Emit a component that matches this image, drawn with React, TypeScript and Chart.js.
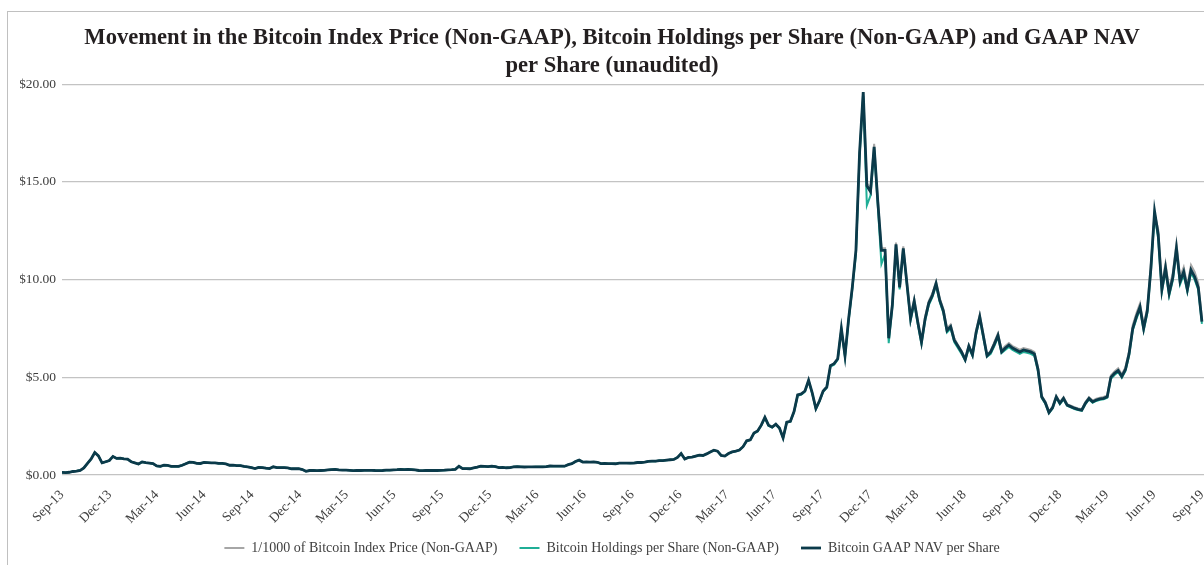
import React, { useEffect, useRef } from "react";
import { Chart, registerables } from "chart.js";

Chart.register(...registerables);

const SERIF = "'Liberation Serif', 'Times New Roman', serif";

const titleLines = [
  "Movement in the Bitcoin Index Price (Non-GAAP), Bitcoin Holdings per Share (Non-GAAP) and GAAP NAV",
  "per Share (unaudited)",
];

const seriesNames = [
  "1/1000 of Bitcoin Index Price (Non-GAAP)",
  "Bitcoin Holdings per Share (Non-GAAP)",
  "Bitcoin GAAP NAV per Share",
];

const tickLabels = [
  "Sep-13", "Dec-13", "Mar-14", "Jun-14", "Sep-14", "Dec-14", "Mar-15", "Jun-15", "Sep-15",
  "Dec-15", "Mar-16", "Jun-16", "Sep-16", "Dec-16", "Mar-17", "Jun-17", "Sep-17", "Dec-17",
  "Mar-18", "Jun-18", "Sep-18", "Dec-18", "Mar-19", "Jun-19", "Sep-19",
];

// weekly observations starting Monday 30 Sep 2013
const START_UTC = Date.UTC(2013, 8, 30);

const indexPrice = [
  0.13, 0.125, 0.14, 0.18, 0.2, 0.24, 0.36, 0.6, 0.82, 1.15, 0.98, 0.62, 0.68,
  0.74, 0.95, 0.85, 0.86, 0.83, 0.81, 0.68, 0.62, 0.56, 0.67, 0.63, 0.61, 0.58,
  0.46, 0.44, 0.5, 0.49, 0.44, 0.44, 0.44, 0.5, 0.58, 0.66, 0.65, 0.6, 0.59,
  0.64, 0.63, 0.62, 0.62, 0.59, 0.59, 0.57, 0.5, 0.51, 0.48, 0.48, 0.44, 0.41,
  0.38, 0.33, 0.39, 0.38, 0.35, 0.33, 0.42, 0.38, 0.38, 0.38, 0.36, 0.32, 0.32,
  0.32, 0.28, 0.19, 0.23, 0.24, 0.22, 0.23, 0.24, 0.26, 0.28, 0.29, 0.26, 0.25,
  0.25, 0.24, 0.22, 0.23, 0.23, 0.24, 0.24, 0.24, 0.23, 0.225, 0.23, 0.25, 0.245,
  0.26, 0.27, 0.29, 0.28, 0.29, 0.28, 0.26, 0.23, 0.22, 0.23, 0.24, 0.23, 0.23,
  0.24, 0.245, 0.26, 0.27, 0.29, 0.45, 0.33, 0.33, 0.32, 0.36, 0.4, 0.45, 0.44,
  0.43, 0.45, 0.43, 0.38, 0.39, 0.37, 0.38, 0.42, 0.43, 0.42, 0.41, 0.415, 0.415,
  0.42, 0.42, 0.42, 0.43, 0.46, 0.45, 0.455, 0.45, 0.45, 0.53, 0.58, 0.69, 0.76,
  0.66, 0.67, 0.66, 0.67, 0.65, 0.58, 0.59, 0.58, 0.58, 0.575, 0.61, 0.61, 0.61,
  0.605, 0.61, 0.64, 0.64, 0.66, 0.7, 0.71, 0.71, 0.74, 0.74, 0.76, 0.78, 0.8,
  0.9, 1.1, 0.82, 0.9, 0.92, 0.97, 1.02, 1.0, 1.08, 1.18, 1.27, 1.22, 1.0,
  0.97, 1.1, 1.18, 1.22, 1.28, 1.45, 1.75, 1.8, 2.15, 2.25, 2.55, 2.95, 2.55,
  2.45, 2.6, 2.4, 1.9, 2.7, 2.75, 3.25, 4.1, 4.15, 4.3, 4.85, 4.2, 3.4,
  3.8, 4.3, 4.5, 5.6, 5.7, 5.95, 7.5, 6.1, 8.0, 9.6, 11.5, 16.5, 19.6,
  14.95, 14.65, 16.95, 14.15, 11.6, 11.6, 7.1, 8.8, 11.9, 9.7, 11.7, 9.9, 8.1,
  9.0, 7.9, 6.85, 8.1, 8.9, 9.3, 9.9, 9.05, 8.5, 7.5, 7.7, 7.0, 6.65,
  6.35, 5.95, 6.65, 6.2, 7.4, 8.2, 7.2, 6.15, 6.35, 6.8, 7.25, 6.4, 6.6,
  6.75, 6.6, 6.5, 6.4, 6.5, 6.45, 6.4, 6.3, 5.5, 4.05, 3.75, 3.25, 3.5,
  4.05, 3.72, 3.98, 3.63, 3.55, 3.47, 3.41, 3.37, 3.73, 3.98, 3.81, 3.9, 3.96,
  3.99, 4.07, 5.1, 5.3, 5.46, 5.15, 5.51, 6.33, 7.66, 8.27, 8.78, 7.66, 8.58,
  10.83, 13.4, 12.57, 9.72, 10.84, 9.52, 10.33, 11.87, 10.13, 10.64, 9.72, 10.75, 10.39,
  9.83, 8.03,
];

const holdingsPerShare = [
  0.13, 0.125, 0.14, 0.18, 0.2, 0.24, 0.36, 0.6, 0.82, 1.15, 0.98, 0.62, 0.68,
  0.74, 0.95, 0.85, 0.86, 0.83, 0.81, 0.68, 0.62, 0.56, 0.67, 0.63, 0.61, 0.58,
  0.46, 0.44, 0.5, 0.49, 0.44, 0.44, 0.44, 0.5, 0.58, 0.66, 0.65, 0.6, 0.59,
  0.64, 0.63, 0.62, 0.62, 0.59, 0.59, 0.57, 0.5, 0.51, 0.48, 0.48, 0.44, 0.41,
  0.38, 0.33, 0.39, 0.38, 0.35, 0.33, 0.42, 0.38, 0.38, 0.38, 0.36, 0.32, 0.32,
  0.32, 0.28, 0.19, 0.23, 0.24, 0.22, 0.23, 0.24, 0.26, 0.28, 0.29, 0.26, 0.25,
  0.25, 0.24, 0.22, 0.23, 0.23, 0.24, 0.24, 0.24, 0.23, 0.225, 0.23, 0.25, 0.245,
  0.26, 0.27, 0.29, 0.28, 0.29, 0.28, 0.26, 0.23, 0.22, 0.23, 0.24, 0.23, 0.23,
  0.24, 0.245, 0.26, 0.27, 0.29, 0.45, 0.33, 0.33, 0.32, 0.36, 0.4, 0.45, 0.44,
  0.43, 0.45, 0.43, 0.38, 0.39, 0.37, 0.38, 0.42, 0.43, 0.42, 0.41, 0.415, 0.415,
  0.42, 0.42, 0.42, 0.43, 0.46, 0.45, 0.455, 0.45, 0.45, 0.53, 0.58, 0.69, 0.76,
  0.66, 0.67, 0.66, 0.67, 0.65, 0.58, 0.59, 0.58, 0.58, 0.575, 0.61, 0.61, 0.61,
  0.605, 0.61, 0.64, 0.64, 0.66, 0.7, 0.71, 0.71, 0.74, 0.74, 0.76, 0.78, 0.8,
  0.9, 1.09, 0.82, 0.9, 0.92, 0.96, 1.02, 0.99, 1.08, 1.17, 1.26, 1.21, 0.99,
  0.97, 1.09, 1.17, 1.21, 1.27, 1.44, 1.73, 1.79, 2.13, 2.23, 2.53, 2.92, 2.52,
  2.43, 2.58, 2.38, 1.88, 2.68, 2.73, 3.22, 4.06, 4.11, 4.26, 4.8, 4.16, 3.37,
  3.77, 4.26, 4.46, 5.55, 5.65, 5.9, 7.43, 6.04, 7.9, 9.5, 11.3, 16.3, 19.4,
  13.8, 14.3, 16.6, 13.8, 10.8, 11.3, 6.75, 8.6, 11.6, 9.5, 11.5, 9.7, 7.9,
  8.8, 7.7, 6.7, 7.9, 8.7, 9.1, 9.7, 8.85, 8.3, 7.3, 7.5, 6.8, 6.5,
  6.2, 5.85, 6.5, 6.1, 7.2, 8.0, 7.0, 6.05, 6.2, 6.6, 7.05, 6.25, 6.4,
  6.55, 6.4, 6.3, 6.2, 6.3, 6.25, 6.2, 6.1, 5.3, 3.95, 3.65, 3.16, 3.4,
  3.95, 3.62, 3.87, 3.54, 3.46, 3.38, 3.32, 3.28, 3.62, 3.87, 3.7, 3.79, 3.85,
  3.87, 3.95, 4.92, 5.12, 5.27, 4.98, 5.32, 6.1, 7.4, 7.98, 8.48, 7.4, 8.28,
  10.45, 13.3, 12.1, 9.35, 10.45, 9.17, 9.95, 11.45, 9.75, 10.25, 9.37, 10.35, 10.0,
  9.47, 7.74,
];

const gaapNavPerShare = [
  0.13, 0.125, 0.14, 0.18, 0.2, 0.24, 0.36, 0.6, 0.82, 1.15, 0.98, 0.62, 0.68,
  0.74, 0.95, 0.85, 0.86, 0.83, 0.81, 0.68, 0.62, 0.56, 0.67, 0.63, 0.61, 0.58,
  0.46, 0.44, 0.5, 0.49, 0.44, 0.44, 0.44, 0.5, 0.58, 0.66, 0.65, 0.6, 0.59,
  0.64, 0.63, 0.62, 0.62, 0.59, 0.59, 0.57, 0.5, 0.51, 0.48, 0.48, 0.44, 0.41,
  0.38, 0.33, 0.39, 0.38, 0.35, 0.33, 0.42, 0.38, 0.38, 0.38, 0.36, 0.32, 0.32,
  0.32, 0.28, 0.19, 0.23, 0.24, 0.22, 0.23, 0.24, 0.26, 0.28, 0.29, 0.26, 0.25,
  0.25, 0.24, 0.22, 0.23, 0.23, 0.24, 0.24, 0.24, 0.23, 0.225, 0.23, 0.25, 0.245,
  0.26, 0.27, 0.29, 0.28, 0.29, 0.28, 0.26, 0.23, 0.22, 0.23, 0.24, 0.23, 0.23,
  0.24, 0.245, 0.26, 0.27, 0.29, 0.45, 0.33, 0.33, 0.32, 0.36, 0.4, 0.45, 0.44,
  0.43, 0.45, 0.43, 0.38, 0.39, 0.37, 0.38, 0.42, 0.43, 0.42, 0.41, 0.415, 0.415,
  0.42, 0.42, 0.42, 0.43, 0.46, 0.45, 0.455, 0.45, 0.45, 0.53, 0.58, 0.69, 0.76,
  0.66, 0.67, 0.66, 0.67, 0.65, 0.58, 0.59, 0.58, 0.58, 0.575, 0.61, 0.61, 0.61,
  0.605, 0.61, 0.64, 0.64, 0.66, 0.7, 0.71, 0.71, 0.74, 0.74, 0.76, 0.78, 0.8,
  0.9, 1.1, 0.82, 0.9, 0.92, 0.97, 1.02, 1.0, 1.08, 1.18, 1.27, 1.22, 1.0,
  0.97, 1.1, 1.18, 1.22, 1.28, 1.45, 1.75, 1.8, 2.15, 2.25, 2.55, 2.95, 2.55,
  2.45, 2.6, 2.4, 1.9, 2.7, 2.75, 3.25, 4.1, 4.15, 4.3, 4.85, 4.2, 3.4,
  3.8, 4.3, 4.5, 5.6, 5.7, 5.95, 7.5, 6.1, 8.0, 9.6, 11.5, 16.5, 19.6,
  14.8, 14.5, 16.8, 14.0, 11.5, 11.5, 7.0, 8.7, 11.8, 9.6, 11.6, 9.8, 8.0,
  8.9, 7.8, 6.8, 8.0, 8.8, 9.2, 9.8, 8.95, 8.4, 7.4, 7.6, 6.9, 6.6,
  6.3, 5.9, 6.6, 6.15, 7.3, 8.1, 7.1, 6.1, 6.3, 6.7, 7.15, 6.3, 6.5,
  6.65, 6.5, 6.4, 6.3, 6.4, 6.35, 6.3, 6.2, 5.4, 4.0, 3.7, 3.2, 3.45,
  4.0, 3.67, 3.92, 3.58, 3.5, 3.42, 3.36, 3.32, 3.67, 3.92, 3.75, 3.84, 3.9,
  3.92, 4.0, 5.0, 5.2, 5.35, 5.05, 5.4, 6.2, 7.5, 8.1, 8.6, 7.5, 8.4,
  10.6, 13.5, 12.3, 9.5, 10.6, 9.3, 10.1, 11.6, 9.9, 10.4, 9.5, 10.5, 10.15,
  9.6, 7.85,
];

const seriesColors = ["#a6a6a6", "#1fae96", "#0b3a4a"];
const seriesWidths = [2, 2, 2.8];

export default function App() {
  const canvasRef = useRef<HTMLCanvasElement | null>(null);

  useEffect(() => {
    const canvas = canvasRef.current;
    if (!canvas) return;

    const dayMs = 86400000;
    const tickDays = tickLabels.map(
      (_, k) => (Date.UTC(2013, 9 + 3 * k, 0) - START_UTC) / dayMs
    );
    const toPoints = (vals: number[]) => vals.map((v, i) => ({ x: i * 7, y: v }));
    const allSeries = [indexPrice, holdingsPerShare, gaapNavPerShare];

    const chart = new Chart(canvas, {
      type: "line",
      data: {
        datasets: allSeries.map((vals, i) => ({
          label: seriesNames[i],
          data: toPoints(vals),
          borderColor: seriesColors[i],
          backgroundColor: seriesColors[i],
          borderWidth: seriesWidths[i],
          pointRadius: 0,
          pointHoverRadius: 0,
          tension: 0,
          fill: false,
          order: 3 - i,
        })),
      },
      options: {
        animation: false,
        responsive: false,
        events: [],
        layout: { padding: { left: 20, right: 0, top: 11, bottom: 0 } },
        plugins: {
          title: {
            display: true,
            text: titleLines,
            color: "#231f20",
            font: { family: SERIF, size: 22.6, weight: "bold", lineHeight: 1.2 },
            padding: { top: 14, bottom: 5 },
          },
          legend: {
            display: true,
            position: "bottom",
            labels: {
              usePointStyle: true,
              pointStyle: "line",
              pointStyleWidth: 20,
              color: "#404040",
              font: { family: SERIF, size: 14 },
              padding: 22,
              sort: (a: any, b: any) => a.datasetIndex - b.datasetIndex,
            },
          },
          tooltip: { enabled: false },
        },
        scales: {
          x: {
            type: "linear",
            min: 0,
            max: 2195,
            grid: { display: false },
            border: { display: false },
            afterBuildTicks: (scale: any) => {
              scale.ticks = tickDays.map((v) => ({ value: v }));
            },
            afterFit: (scale: any) => {
              scale.paddingLeft = 0;
              scale.paddingRight = 0;
              scale.height = 44;
              // let the rotated labels run past the (shortened) axis box
              scale._computeLabelArea = () => undefined;
            },
            ticks: {
              autoSkip: false,
              maxRotation: 45,
              minRotation: 45,
              padding: 4,
              color: "#404040",
              font: { family: SERIF, size: 13.5 },
              callback: (_v: any, i: number) => tickLabels[i],
            },
          },
          y: {
            min: 0,
            max: 20,
            grid: { color: "#c3c3c3", lineWidth: 1.3, drawTicks: false },
            border: { display: false },
            afterFit: (scale: any) => {
              scale.width = 42;
            },
            ticks: {
              stepSize: 5,
              padding: 6,
              color: "#404040",
              font: { family: SERIF, size: 13.5 },
              callback: (v: any) => "$" + Number(v).toFixed(2),
            },
          },
        },
      },
    });

    return () => chart.destroy();
  }, []);

  return (
    <div
      style={{
        position: "fixed",
        left: 0,
        top: 0,
        width: 1204,
        height: 565,
        overflow: "hidden",
        background: "#ffffff",
      }}
    >
      <div
        style={{
          position: "absolute",
          left: 7,
          top: 11,
          width: 1300,
          height: 700,
          border: "1px solid #c0c0c0",
          boxSizing: "border-box",
        }}
      />
      <canvas
        ref={canvasRef}
        width={1204}
        height={565}
        style={{ position: "absolute", left: 0, top: 0, width: 1204, height: 565 }}
      />
    </div>
  );
}
